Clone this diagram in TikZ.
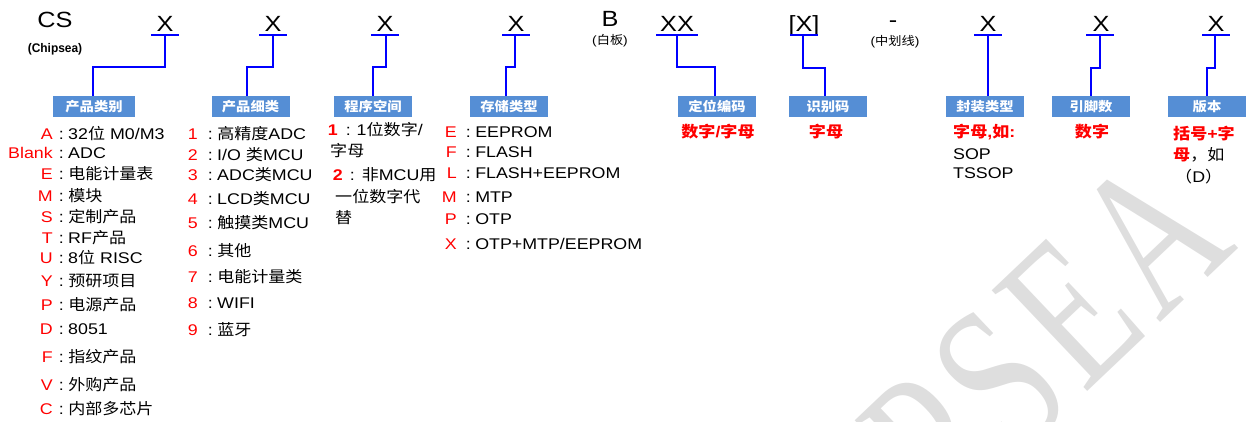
\documentclass[tikz,border=0pt]{standalone}
\usepackage{fontspec}
\usepackage{graphicx}
\setmainfont{Liberation Sans}[FakeStretch=1.15]
\newfontfamily\cjk{Noto Sans CJK SC}[FakeStretch=1.1]
\newfontfamily\wmfont{Liberation Serif}
\newcommand\zh[1]{{\cjk #1}}
\definecolor{boxblue}{RGB}{85,142,213}
\definecolor{lineblue}{RGB}{0,0,255}
\definecolor{wmgray}{RGB}{222,222,222}
\tikzset{
 hdr/.style={inner sep=0pt, anchor=base, font=\fontsize{22}{25}\selectfont},
 sub/.style={inner sep=0pt, anchor=base, font=\fontsize{12}{14}\selectfont},
 ul/.style={draw=lineblue, line width=2pt},
 conn/.style={draw=lineblue, line width=2pt},
 lbl/.style={fill=boxblue, text=white, inner sep=0pt, minimum width=78pt, minimum height=21pt, font=\fontsize{13}{15}\selectfont\bfseries\cjk},
 key/.style={inner sep=0pt, anchor=base east, text=red, font=\fontsize{15.5}{17}\selectfont},
 val/.style={inner sep=0pt, anchor=base west, font=\fontsize{15.5}{17}\selectfont},
 note/.style={inner sep=0pt, anchor=base, text=red, font=\fontsize{15.5}{17}\selectfont\bfseries},
}
\newcommand\kv[6]{\node[key] (#1k) at (#2,#4) {#5}; \node[val] (#1v) at (#3,#4) {:\hspace{4.5pt}#6};}
\newcommand\wk{\kern14pt\relax}
\begin{document}
\begin{tikzpicture}[x=1pt,y=-1pt]
\useasboundingbox (0,0) rectangle (1248,422);
% watermark
\begin{scope}
\clip (0,0) rectangle (1248,422);
\node[inner sep=0pt, anchor=base east, rotate=43.5, text=wmgray, font=\fontsize{212}{215}\selectfont\wmfont] (wm) at (1240,247) {\scalebox{0.72}[1]{C\wk H\wk I\wk P\wk S\wk E\wk A}};
\end{scope}
% header
\node[hdr] (cs) at (55,28) {CS};
\node[sub, font=\fontsize{12.5}{14}\selectfont\bfseries] (chip) at (55,53) {\scalebox{0.83}[1]{(Chipsea)}};
\node[hdr] (x1) at (165,32) {X};
\node[hdr] (x2) at (273,32) {X};
\node[hdr] (x3) at (385,32) {X};
\node[hdr] (x4) at (516,32) {X};
\node[hdr] (b) at (610,27) {B};
\node[sub] (bsub) at (610,45) {(\zh{白板})};
\node[hdr] (x6) at (677,32) {XX};
\node[hdr] (x7) at (804,32) {[X]};
\node[hdr] (dash) at (893,28) {-};
\node[sub] (dsub) at (895,46) {(\zh{中划线})};
\node[hdr] (x9) at (988,32) {X};
\node[hdr] (x10) at (1101,32) {X};
\node[hdr] (x11) at (1216,32) {X};
% underlines
\coordinate (u1) at (165,35);
\coordinate (u2) at (273,35);
\coordinate (u3) at (385,35);
\coordinate (u4) at (516,35);
\coordinate (u6) at (677,35);
\coordinate (u7) at (804,35);
\coordinate (u9) at (988,35);
\coordinate (u10) at (1100,35);
\coordinate (u11) at (1216,35);
\foreach \u in {u1,u2,u3,u4,u7,u9,u10,u11}
  \draw[ul] ([xshift=-14pt]\u) -- ([xshift=14pt]\u);
\draw[ul] ([xshift=-21pt]u6) -- ([xshift=21pt]u6);
% label boxes
\node[lbl, minimum width=82pt] (l1) at (94,106.5) {产品类别};
\node[lbl] (l2) at (250.5,106.5) {产品细类};
\node[lbl] (l3) at (373,106.5) {程序空间};
\node[lbl] (l4) at (509,106.5) {存储类型};
\node[lbl] (l6) at (717,106.5) {定位编码};
\node[lbl] (l7) at (828,106.5) {识别码};
\node[lbl] (l9) at (985,106.5) {封装类型};
\node[lbl] (l10) at (1091,106.5) {引脚数};
\node[lbl] (l11) at (1207,106.5) {版本};
% connectors
\draw[conn] (u1) -- (u1 |- 0,67) -| ([xshift=-1pt]l1.north);
\draw[conn] (u2) -- (u2 |- 0,67) -| ([xshift=-3.5pt]l2.north);
\draw[conn] ([xshift=1pt]u3) -- ([xshift=1pt]u3 |- 0,67) -| (l3.north);
\draw[conn] ([xshift=-1pt]u4) -- ([xshift=-1pt]u4 |- 0,67) -| ([xshift=-3pt]l4.north);
\draw[conn] (u6) -- (u6 |- 0,67) -| ([xshift=-2pt]l6.north);
\draw[conn] ([xshift=-1pt]u7) -- ([xshift=-1pt]u7 |- 0,68) -| ([xshift=-3pt]l7.north);
\draw[conn] (u9) -- (u9 |- l9.north);
\draw[conn] (u10) -- (u10 |- 0,68) -| (l10.north);
\draw[conn] ([xshift=-1pt]u11) -- ([xshift=-1pt]u11 |- 0,68) -| (l11.north);
% column 1
\kv{a}{53}{58.6}{139.5}{A}{32\zh{位} M0/M3}
\kv{blank}{53}{58.6}{158.5}{Blank}{ADC}
\kv{e}{53}{58.6}{179.5}{E}{\zh{电能计量表}}
\kv{m}{53}{58.6}{201.5}{M}{\zh{模块}}
\kv{s}{53}{58.6}{222.5}{S}{\zh{定制产品}}
\kv{t}{53}{58.6}{243.5}{T}{RF\zh{产品}}
\kv{u}{53}{58.6}{263.5}{U}{8\zh{位} RISC}
\kv{y}{53}{58.6}{286.5}{Y}{\zh{预研项目}}
\kv{p}{53}{58.6}{310.5}{P}{\zh{电源产品}}
\kv{d}{53}{58.6}{334.5}{D}{8051}
\kv{f}{53}{58.6}{362.5}{F}{\zh{指纹产品}}
\kv{v}{53}{58.6}{390.5}{V}{\zh{外购产品}}
\kv{c}{53}{58.6}{414.5}{C}{\zh{内部多芯片}}
% column 2
\kv{n1}{198}{207.6}{139.5}{1}{\zh{高精度}ADC}
\kv{n2}{198}{207.6}{160.5}{2}{I/O \zh{类}MCU}
\kv{n3}{198}{207.6}{180.5}{3}{ADC\zh{类}MCU}
\kv{n4}{198}{207.6}{204.5}{4}{LCD\zh{类}MCU}
\kv{n5}{198}{207.6}{228.5}{5}{\zh{触摸类}MCU}
\kv{n6}{198}{207.6}{256.5}{6}{\zh{其他}}
\kv{n7}{198}{207.6}{282.5}{7}{\zh{电能计量类}}
\kv{n8}{198}{207.6}{308.5}{8}{WIFI}
\kv{n9}{198}{207.6}{335.5}{9}{\zh{蓝牙}}
% column 3
\node[key, font=\fontsize{15.5}{17}\selectfont\bfseries] (q1k) at (338,135.5) {1};
\node[val] (q1v) at (345.6,135.5) {:\hspace{6pt}1\zh{位数字}/};
\node[val] (q1w) at (330,157) {\zh{字母}};
\node[key, font=\fontsize{15.5}{17}\selectfont\bfseries] (q2k) at (343,180.5) {2};
\node[val] (q2v) at (349.6,180.5) {:\hspace{7pt}\zh{非}MCU\zh{用}};
\node[val] (q2w) at (335,203) {\zh{一位数字代}};
\node[val] (q2x) at (335,224) {\zh{替}};
% column 4
\kv{me}{457}{465.6}{137.5}{E}{EEPROM}
\kv{mf}{457}{465.6}{157.5}{F}{FLASH}
\kv{ml}{457}{465.6}{178.5}{L}{FLASH+EEPROM}
\kv{mm}{457}{465.6}{202.5}{M}{MTP}
\kv{mp}{457}{465.6}{224.5}{P}{OTP}
\kv{mx}{457}{465.6}{249.5}{X}{OTP+MTP/EEPROM}
% notes
\node[note] (t6) at (718,138) {\zh{数字}/\zh{字母}};
\node[note] (t7) at (826,138) {\zh{字母}};
\node[note, anchor=base west] (t9) at (953,138) {\zh{字母},\zh{如}:};
\node[val] (t9b) at (953,160) {SOP};
\node[val] (t9c) at (953,179) {TSSOP};
\node[note] (t10) at (1092,138) {\zh{数字}};
\node[note, anchor=base west] (t11a) at (1173,139.5) {\zh{括号}+\zh{字}};
\node[val] (t11b) at (1173,160.5) {\textcolor{red}{\bfseries\zh{母}}\zh{，如}};
\node[val] (t11c) at (1175,183) {\zh{（}D\zh{）}};
\end{tikzpicture}
\end{document}
